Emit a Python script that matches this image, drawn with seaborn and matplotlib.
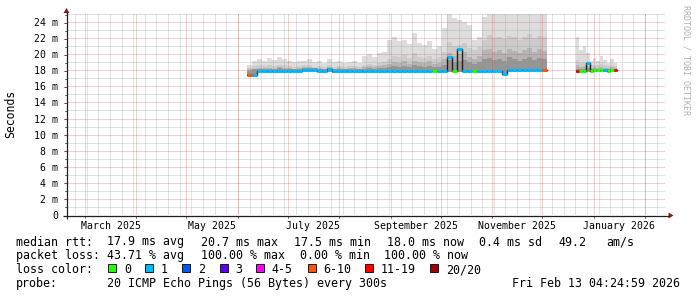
import numpy as np
import pandas as pd
import matplotlib
matplotlib.use("Agg")
import matplotlib.pyplot as plt
import matplotlib.dates as mdates
from matplotlib.patches import Rectangle, Polygon
import seaborn as sns

# ---------------- data ----------------
view_start = "2025-02-18 04:25"
view_end = "2026-02-13 04:25"

seg1_span = ("2025-06-06 06:00", "2025-12-04 00:00")
seg2_span = ("2025-12-21 08:00", "2026-01-15 02:00")

s1_max = [18.6, 19.1, 19.4, 19.2, 19.5, 19.3, 19.6, 19.4, 19.2, 19.0,
          19.1, 19.2, 19.4, 19.0, 19.1, 18.9, 19.4, 19.0, 19.1, 18.9,
          19.0, 19.1, 18.9, 19.8, 20.0, 19.7, 20.1, 20.3, 21.8, 22.2,
          21.6, 21.8, 21.3, 22.6, 21.4, 21.2, 21.6, 20.7, 21.0, 23.3,
          25.8, 24.5, 24.2, 24.0, 23.6, 21.8, 22.2, 24.6, 25.8, 25.8,
          25.8, 25.8, 25.8, 25.8, 25.8, 25.8, 25.8, 25.8, 25.8, 25.8]
s1_p90 = [18.3, 18.5, 18.6, 18.5, 18.6, 18.5, 18.7, 18.6, 18.5, 18.4,
          18.5, 18.6, 18.6, 18.4, 18.5, 18.4, 18.6, 18.4, 18.5, 18.4,
          18.5, 18.5, 18.4, 18.7, 18.8, 18.7, 18.9, 19.0, 19.4, 19.8,
          19.6, 19.9, 19.5, 20.1, 19.7, 19.5, 19.8, 19.4, 19.6, 20.3,
          21.5, 21.0, 21.2, 21.4, 20.8, 20.5, 20.9, 21.8, 22.4, 22.0,
          22.2, 21.9, 22.3, 22.1, 21.8, 22.2, 22.5, 22.0, 22.3, 22.1]
s1_p75 = [18.1, 18.2, 18.3, 18.3, 18.3, 18.2, 18.4, 18.3, 18.3, 18.2,
          18.3, 18.4, 18.4, 18.3, 18.3, 18.2, 18.4, 18.2, 18.3, 18.2,
          18.3, 18.3, 18.2, 18.4, 18.5, 18.4, 18.5, 18.6, 18.8, 19.0,
          18.9, 19.1, 18.8, 19.2, 19.0, 18.9, 19.1, 18.8, 18.9, 19.4,
          20.2, 19.8, 20.0, 20.3, 19.7, 19.4, 19.8, 20.5, 20.6, 20.3,
          20.5, 20.2, 20.7, 20.4, 20.1, 20.5, 20.8, 20.3, 20.6, 20.4]
s1_p60 = [17.9, 18.15, 18.15, 18.2, 18.2, 18.15, 18.25, 18.2, 18.2, 18.15,
          18.2, 18.3, 18.3, 18.25, 18.2, 18.1, 18.3, 18.1, 18.15, 18.1,
          18.15, 18.2, 18.1, 18.2, 18.25, 18.2, 18.3, 18.3, 18.4, 18.5,
          18.45, 18.5, 18.4, 18.6, 18.5, 18.4, 18.5, 18.4, 18.45, 18.7,
          19.3, 19.0, 19.2, 19.3, 19.0, 18.8, 19.0, 19.4, 19.5, 19.3,
          19.4, 19.2, 19.6, 19.4, 19.2, 19.4, 19.6, 19.3, 19.5, 19.4]
s1_min = [17.3, 17.3, 17.8, 17.8, 17.8, 17.8, 17.8, 17.8, 17.8, 17.8,
          17.8, 17.9, 17.9, 17.9, 17.75, 17.75, 17.75, 17.7, 17.7, 17.7,
          17.8, 17.8, 17.8, 17.8, 17.8, 17.8, 17.8, 17.8, 17.8, 17.8,
          17.8, 17.8, 17.8, 17.8, 17.8, 17.8, 17.8, 17.8, 17.8, 17.8,
          17.8, 17.75, 17.8, 17.8, 17.8, 17.8, 17.8, 17.8, 17.8, 17.8,
          17.8, 17.4, 17.85, 17.85, 17.85, 17.85, 17.85, 17.85, 17.85, 17.85]
s1_median = [17.45, 17.45, 17.95, 17.95, 17.95, 17.95, 17.95, 17.95, 17.95, 17.95,
             17.95, 18.05, 18.05, 18.05, 17.9, 17.9, 18.1, 17.85, 17.85, 17.85,
             17.95, 17.95, 17.95, 17.95, 17.95, 17.95, 17.95, 17.95, 17.95, 17.95,
             17.95, 17.95, 17.95, 17.95, 17.95, 17.95, 17.95, 17.95, 17.95, 17.95,
             19.6, 17.9, 20.7, 17.95, 17.95, 17.95, 17.95, 17.95, 17.95, 17.95,
             17.95, 17.55, 18.0, 18.0, 18.0, 18.0, 18.0, 18.0, 18.0, 18.0]
s1_loss = [7, 1, 1, 1, 1, 1, 1, 1, 1, 1,
           1, 1, 1, 1, 1, 1, 1, 1, 1, 1,
           1, 1, 1, 1, 1, 1, 1, 1, 1, 1,
           1, 1, 1, 1, 1, 1, 1, 0, 1, 1,
           1, 0, 1, 1, 1, 0, 1, 1, 1, 1,
           1, 1, 1, 1, 1, 1, 1, 1, 1, 7]

s2_max = [22.2, 20.5, 21.0, 20.1, 19.1, 19.5, 19.1, 19.8, 19.3, 18.9, 19.4, 18.9]
s2_p90 = [19.3, 18.9, 19.0, 18.9, 18.6, 18.7, 18.6, 18.8, 18.6, 18.5, 18.7, 18.5]
s2_p75 = [18.6, 18.4, 18.5, 18.5, 18.3, 18.4, 18.3, 18.4, 18.3, 18.3, 18.4, 18.3]
s2_p60 = [18.2, 18.15, 18.2, 18.25, 18.1, 18.15, 18.1, 18.15, 18.1, 18.1, 18.15, 18.1]
s2_min = [17.6, 17.7, 17.75, 17.75, 17.8, 17.8, 17.8, 17.8, 17.8, 17.8, 17.8, 17.8]
s2_median = [17.85, 17.9, 17.95, 18.9, 17.95, 18.0, 18.0, 18.0, 18.0, 17.95, 18.0, 18.0]
s2_loss = [12, 0, 0, 1, 0, 0, 0, 0, 1, 0, 0, 12]

loss_upper = [0, 1, 2, 3, 5, 10, 19, 20]
loss_labels = ["0", "1", "2", "3", "4-5", "6-10", "11-19", "20/20"]
loss_colors = ["#26ff00", "#00b8ff", "#0059ff", "#5e00ff",
               "#ff00ff", "#ff5500", "#ff0000", "#a00000"]

smoke_colors = ["#dddddd", "#cccccc", "#b4b4b4", "#969696"]

y_ticks = [0, 2, 4, 6, 8, 10, 12, 14, 16, 18, 20, 22, 24]
y_tick_labels = ["0", "2 m", "4 m", "6 m", "8 m", "10 m", "12 m", "14 m",
                 "16 m", "18 m", "20 m", "22 m", "24 m"]
x_label_dates = ["2025-03-16 12:00", "2025-05-16 12:00", "2025-07-16 12:00",
                 "2025-09-16 00:00", "2025-11-16 00:00", "2026-01-16 12:00"]
x_labels = ["March 2025", "May 2025", "July 2025", "September 2025",
            "November 2025", "January 2026"]

legend_rtt = [("median rtt:", 16), ("17.9 ms avg", 107.3), ("20.7 ms max", 200.7),
              ("17.5 ms min", 294.0), ("18.0 ms now", 387.0), ("0.4 ms sd", 479.3),
              ("49.2", 558.3), ("am/s", 606.7)]
legend_loss = [("packet loss:", 16), ("43.71 % avg", 107.3), ("100.00 % max", 200.7),
               ("0.00 % min", 299.5), ("100.00 % now", 384.1)]
legend_box_x = [108.4, 145.3, 182.2, 219.6, 256.4, 307.6, 365.3, 430.2]
probe_text = "20 ICMP Echo Pings (56 Bytes) every 300s"
stamp_text = "Fri Feb 13 04:24:59 2026"

# ---------------- figure ----------------
W, H = 697, 297
sns.set_theme(style="white")
plt.rcParams["font.family"] = ["DejaVu Sans Mono"]

fig = plt.figure(figsize=(W / 100, H / 100), dpi=100, facecolor="white")
ax = fig.add_axes([67 / W, 1 - 215 / H, 598.3 / W, 201 / H])
ax.set_facecolor("white")
for s in ax.spines.values():
    s.set_visible(False)

t0 = mdates.date2num(pd.Timestamp(view_start))
t1 = mdates.date2num(pd.Timestamp(view_end))
ax.set_xlim(t0, t1)
ax.set_ylim(0, 25)


def color_for_loss(n):
    for ub, c in zip(loss_upper, loss_colors):
        if n <= ub:
            return c
    return loss_colors[-1]


segments = [
    (seg1_span, s1_min, [s1_max, s1_p90, s1_p75, s1_p60], s1_median, s1_loss),
    (seg2_span, s2_min, [s2_max, s2_p90, s2_p75, s2_p60], s2_median, s2_loss),
]

rows = []
for k, (span, mn, bands, med, loss) in enumerate(segments):
    n = len(med)
    edges = mdates.date2num(pd.date_range(span[0], span[1], periods=n + 1))
    lo = np.r_[mn, mn[-1]]
    for arr, col in zip(bands, smoke_colors):
        ax.fill_between(edges, lo, np.r_[arr, arr[-1]], step="post",
                        color=col, lw=0, zorder=1)
    for e, v in zip(edges, np.r_[med, med[-1]]):
        rows.append({"t": e, "median": v, "segment": k})
    ax.hlines(med, edges[:-1], edges[1:], colors=[color_for_loss(l) for l in loss],
              linewidth=2.2, zorder=5, capstyle="butt")

df = pd.DataFrame(rows)
sns.lineplot(data=df, x="t", y="median", units="segment", estimator=None,
             color="#202020", linewidth=1.0, drawstyle="steps-post",
             ax=ax, zorder=4, legend=False)

# ---------------- grid ----------------
minor_col = (0.56, 0.56, 0.56, 0.5)
major_col = (0.87, 0.31, 0.31, 0.55)
grid_kw = dict(linewidth=0.72, linestyle=(0, (1, 1)), zorder=3, antialiased=True)
weeks = mdates.date2num(pd.date_range("2025-02-16", view_end, freq="W-SUN"))
months = mdates.date2num(pd.date_range("2025-03-01", view_end, freq="MS"))
ax.vlines(weeks, 0, 25, colors=[minor_col], **grid_kw)
ax.hlines(np.arange(1, 26, 2), t0, t1, colors=[minor_col], **grid_kw)
ax.vlines(months, 0, 25, colors=[major_col], **grid_kw)
ax.hlines(y_ticks[1:], t0, t1, colors=[major_col], **grid_kw)

ax.set_xlabel("")
ax.set_ylabel("")
ax.set_yticks(y_ticks, y_tick_labels)
ax.set_xticks(mdates.date2num(pd.to_datetime(x_label_dates)), x_labels)
ax.tick_params(axis="both", length=0, labelsize=7.1, colors="black")
ax.tick_params(axis="y", pad=6.5)
ax.tick_params(axis="x", pad=4.0)
ax.grid(False)

# ---------------- overlay in pixel coordinates ----------------
ov = fig.add_axes([0, 0, 1, 1], zorder=10)
ov.set_xlim(0, W)
ov.set_ylim(H, 0)
ov.axis("off")
ov.patch.set_alpha(0)

axis_col = (0.12, 0.12, 0.12)
arrow_col = (0.5, 0.12, 0.12)
ov.plot([63, 669], [215.5, 215.5], color=axis_col, lw=0.9, solid_capstyle="butt")
ov.plot([66.5, 66.5], [219, 12], color=axis_col, lw=0.9, solid_capstyle="butt")
ov.add_patch(Polygon([[668.5, 212.5], [668.5, 218.5], [673.5, 215.5]],
                     closed=True, color=arrow_col, lw=0))
ov.add_patch(Polygon([[63.5, 13], [69.5, 13], [66.5, 8]],
                     closed=True, color=arrow_col, lw=0))
for v in range(0, 26):
    yp = 215.5 - v * 201 / 25
    ln = 3 if v % 2 == 0 else 2
    ov.plot([66.5 - ln, 66.5], [yp, yp], color=axis_col, lw=0.5)
for m in months:
    xp = 67 + (m - t0) / (t1 - t0) * 598.3
    ov.plot([xp, xp], [215.5, 218], color=axis_col, lw=0.5)

ov.text(10.5, 114, "Seconds", rotation=90, ha="center", va="center",
        fontsize=8.3, color="black")
ov.text(686.3, 5, "RRDTOOL / TOBI OETIKER", rotation=270, ha="center", va="top",
        fontsize=6.0, color="#b0b0b0")

fs = 8.4
for txt, xp in legend_rtt:
    ov.text(xp, 245.5, txt, fontsize=fs, ha="left", va="baseline", color="black")
for txt, xp in legend_loss:
    ov.text(xp, 259.3, txt, fontsize=fs, ha="left", va="baseline", color="black")
ov.text(16, 273.1, "loss color:", fontsize=fs, ha="left", va="baseline", color="black")
for bx, lab, col in zip(legend_box_x, loss_labels, loss_colors):
    ov.add_patch(Rectangle((bx, 264), 8, 8, facecolor=col, edgecolor="black", lw=0.6))
    ov.text(bx + 15.5, 273.1, lab, fontsize=fs, ha="left", va="baseline", color="black")
ov.text(16, 286.9, "probe:", fontsize=fs, ha="left", va="baseline", color="black")
ov.text(107.3, 286.9, probe_text, fontsize=fs, ha="left", va="baseline", color="black")
ov.text(679.5, 286.9, stamp_text, fontsize=fs, ha="right", va="baseline", color="black")

fig.savefig("out.png", dpi=100, facecolor="white")
